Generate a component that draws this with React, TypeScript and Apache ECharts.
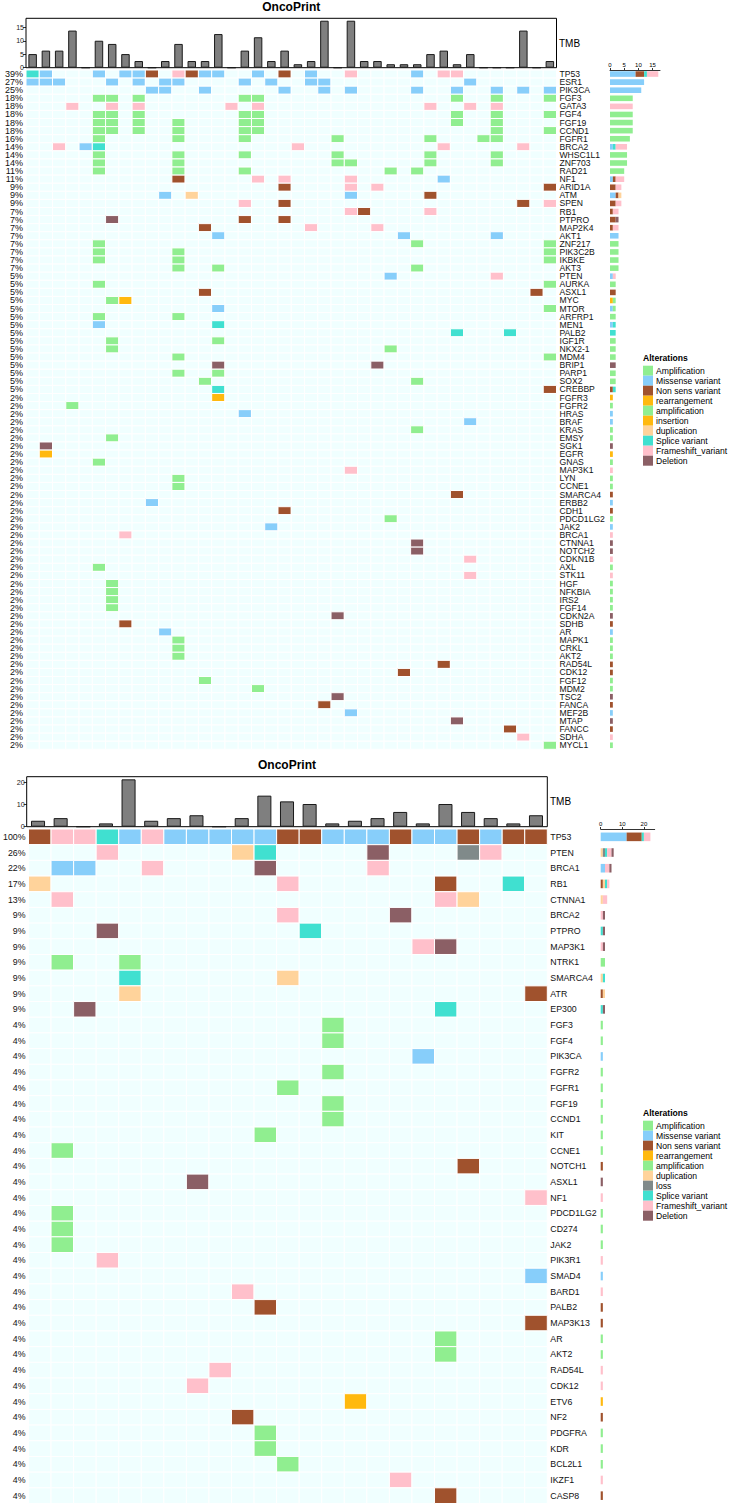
import { useEffect, useRef } from "react";
import * as echarts from "echarts";

const FONT = "'Liberation Sans', Arial, Helvetica, sans-serif";

// Alteration codes, their legend names and fill colours
const ALTERATION_LABELS: Record<string, string> = {
  A: "Amplification",
  M: "Missense variant",
  N: "Non sens variant",
  R: "rearrangement",
  a: "amplification",
  I: "insertion",
  U: "duplication",
  L: "loss",
  S: "Splice variant",
  F: "Frameshift_variant",
  D: "Deletion",
};
const ALTERATION_COLORS: Record<string, string> = {
  A: "#90EE90",
  M: "#87CEFA",
  N: "#A0522D",
  R: "#FFB90F",
  a: "#90EE90",
  I: "#FFB90F",
  U: "#FFD39B",
  L: "#808A8A",
  S: "#40E0D0",
  F: "#FFC0CB",
  D: "#8B5F65",
};
const EMPTY_CELL = "#F0FFFF";
const STACK_ORDER = ["A", "M", "N", "R", "a", "I", "U", "L", "S", "F", "D"];

// ---------- Cohort 1 ----------
const cohort1Genes = [
  "TP53", "ESR1", "PIK3CA", "FGF3", "GATA3", "FGF4", "FGF19", "CCND1", "FGFR1", "BRCA2",
  "WHSC1L1", "ZNF703", "RAD21", "NF1", "ARID1A", "ATM", "SPEN", "RB1", "PTPRO", "MAP2K4",
  "AKT1", "ZNF217", "PIK3C2B", "IKBKE", "AKT3", "PTEN", "AURKA", "ASXL1", "MYC", "MTOR",
  "ARFRP1", "MEN1", "PALB2", "IGF1R", "NKX2-1", "MDM4", "BRIP1", "PARP1", "SOX2", "CREBBP",
  "FGFR3", "FGFR2", "HRAS", "BRAF", "KRAS", "EMSY", "SGK1", "EGFR", "GNAS", "MAP3K1",
  "LYN", "CCNE1", "SMARCA4", "ERBB2", "CDH1", "PDCD1LG2", "JAK2", "BRCA1", "CTNNA1", "NOTCH2",
  "CDKN1B", "AXL", "STK11", "HGF", "NFKBIA", "IRS2", "FGF14", "CDKN2A", "SDHB", "AR",
  "MAPK1", "CRKL", "AKT2", "RAD54L", "CDK12", "FGF12", "MDM2", "TSC2", "FANCA", "MEF2B",
  "MTAP", "FANCC", "SDHA", "MYCL1",
];
const cohort1Pct = [
  "39%", "27%", "25%", "18%", "18%", "18%", "18%", "18%", "16%", "14%",
  "14%", "14%", "11%", "11%", "9%", "9%", "9%", "7%", "7%", "7%",
  "7%", "7%", "7%", "7%", "7%", "5%", "5%", "5%", "5%", "5%",
  "5%", "5%", "5%", "5%", "5%", "5%", "5%", "5%", "5%", "5%",
  "2%", "2%", "2%", "2%", "2%", "2%", "2%", "2%", "2%", "2%",
  "2%", "2%", "2%", "2%", "2%", "2%", "2%", "2%", "2%", "2%",
  "2%", "2%", "2%", "2%", "2%", "2%", "2%", "2%", "2%", "2%",
  "2%", "2%", "2%", "2%", "2%", "2%", "2%", "2%", "2%", "2%",
  "2%", "2%", "2%", "2%",
];
// per gene: "<sample index><alteration code>" entries
const cohort1Calls = [
  "0S 1M 5M 7M 8M 9N 11F 12N 13M 14M 17M 19N 21M 24F 29M 31F 32F",
  "0M 1M 2M 6M 8M 10M 11M 16M 18M 21M 22M 33M",
  "9M 10M 13M 19M 22M 24M 29M 32M 35M 37M 39M",
  "5A 6A 8A 16A 17A 32A 35A 39A",
  "3F 6F 8F 15F 17F 30F 33F 35F",
  "5A 6A 8A 16A 17A 32A 35A 39A",
  "5A 6A 8A 11A 16A 17A 32A 35A",
  "5A 6A 8A 11A 16A 17A 35A 39A",
  "5A 11A 16A 23A 30A 34A 35A",
  "2F 4M 5S 20F 31F 37F",
  "5A 11A 16A 23A 30A 35A",
  "5A 11A 23A 24A 30A 35A",
  "5A 11A 16A 27A 29A",
  "11N 17F 19F 24F 31M",
  "19N 24F 26F 39N",
  "10M 12U 24M 30N",
  "16F 19N 37N 39F",
  "24F 25N 30F",
  "6D 16N 19N",
  "13N 21F 26F",
  "14M 28M 35M",
  "5A 29A 39A",
  "5A 11A 39A",
  "5A 11A 39A",
  "11A 14A 29A",
  "27M 35F",
  "5A 39A",
  "13N 38N",
  "6a 7R",
  "14M 39a",
  "5A 11A",
  "5M 14S",
  "32S 36S",
  "6A 14A",
  "6A 27A",
  "11A 39A",
  "14D 26D",
  "11A 14A",
  "13A 29A",
  "14S 39N",
  "14R",
  "3A",
  "16M",
  "33M",
  "29A",
  "6A",
  "1D",
  "1I",
  "5A",
  "24F",
  "11A",
  "11A",
  "32N",
  "9M",
  "19N",
  "27A",
  "18M",
  "7F",
  "29D",
  "29D",
  "33F",
  "5A",
  "33F",
  "6A",
  "6A",
  "6A",
  "6A",
  "23D",
  "7N",
  "10M",
  "11A",
  "11A",
  "11A",
  "31N",
  "28N",
  "13A",
  "17A",
  "23D",
  "22N",
  "24M",
  "32D",
  "36N",
  "37F",
  "39A",
];
const cohort1Tmb = [
  5.1, 6.4, 6.4, 13.9, 0, 10.1, 8.9, 5.1, 2.5, 0,
  2.5, 8.9, 2.5, 2.5, 12.6, 0, 6.4, 11.4, 2.5, 6.4,
  1.3, 2.5, 17.6, 0, 17.6, 2.5, 2.5, 1.3, 1.3, 1.3,
  5.1, 6.4, 1.3, 5.1, 0, 0, 0, 13.9, 0, 2.5,
];
const cohort1TmbTicks = [0, 5, 10, 15];
const cohort1CountTicks = [0, 5, 10, 15];
const cohort1Legend = ["A", "M", "N", "R", "a", "I", "U", "S", "F", "D"];

// ---------- Cohort 2 ----------
const cohort2Genes = [
  "TP53", "PTEN", "BRCA1", "RB1", "CTNNA1", "BRCA2", "PTPRO", "MAP3K1", "NTRK1", "SMARCA4",
  "ATR", "EP300", "FGF3", "FGF4", "PIK3CA", "FGFR2", "FGFR1", "FGF19", "CCND1", "KIT",
  "CCNE1", "NOTCH1", "ASXL1", "NF1", "PDCD1LG2", "CD274", "JAK2", "PIK3R1", "SMAD4", "BARD1",
  "PALB2", "MAP3K13", "AR", "AKT2", "RAD54L", "CDK12", "ETV6", "NF2", "PDGFRA", "KDR",
  "BCL2L1", "IKZF1", "CASP8",
];
const cohort2Pct = [
  "100%", "26%", "22%", "17%", "13%", "9%", "9%", "9%", "9%", "9%",
  "9%", "9%", "4%", "4%", "4%", "4%", "4%", "4%", "4%", "4%",
  "4%", "4%", "4%", "4%", "4%", "4%", "4%", "4%", "4%", "4%",
  "4%", "4%", "4%", "4%", "4%", "4%", "4%", "4%", "4%", "4%",
  "4%", "4%", "4%",
];
const cohort2Calls = [
  "0N 1F 2F 3S 4M 5F 6M 7M 8M 9M 10M 11N 12N 13M 14M 15M 16N 17M 18M 19N 20M 21N 22N",
  "3F 9U 10S 15D 19L 20F",
  "1M 2M 5F 10D 15F",
  "0U 11F 18N 21S",
  "1F 18F 19U",
  "11F 16D",
  "3D 12S",
  "17F 18D",
  "1A 4A",
  "4S 11U",
  "4U 22N",
  "2D 18S",
  "13A",
  "13A",
  "17M",
  "13A",
  "11A",
  "13A",
  "13A",
  "10A",
  "1A",
  "19N",
  "7D",
  "22F",
  "1A",
  "1A",
  "1A",
  "3F",
  "22M",
  "9F",
  "10N",
  "22N",
  "18A",
  "18A",
  "8F",
  "7F",
  "14R",
  "9N",
  "10A",
  "10A",
  "11A",
  "16F",
  "18N",
];
const cohort2Tmb = [
  2.7, 3.9, 0, 1.5, 21.5, 2.7, 3.9, 5.2, 0, 3.9,
  14.1, 11.5, 10.3, 1.5, 2.7, 3.9, 6.7, 1.5, 10.3, 6.7,
  3.9, 1.5, 5.2,
];
const cohort2TmbTicks = [0, 10, 20];
const cohort2CountTicks = [0, 10, 20];
const cohort2Legend = ["A", "M", "N", "R", "a", "U", "L", "S", "F", "D"];

// ---------- page geometry (px) ----------
const PANELS = [
  {
    genes: cohort1Genes, pct: cohort1Pct, calls: cohort1Calls, tmb: cohort1Tmb,
    tmbTicks: cohort1TmbTicks, countTicks: cohort1CountTicks, legend: cohort1Legend,
    layout: {
      titleY: 7, left: 26, width: 530.5, tmbTop: 18.3, tmbHeight: 49.4, tmbMax: 18.5,
      hmTop: 70, hmHeight: 679.3, sideLeft: 610, sideWidth: 50, sideMax: 17.6, sideBar: 5.6,
      nameFont: 8.6, pctFont: 9, tmbFont: 7, tmbLabelX: 559, tmbLabelY: 43,
      legendX: 643, legendY: 358, barWidth: "64%",
    },
  },
  {
    genes: cohort2Genes, pct: cohort2Pct, calls: cohort2Calls, tmb: cohort2Tmb,
    tmbTicks: cohort2TmbTicks, countTicks: cohort2CountTicks, legend: cohort2Legend,
    layout: {
      titleY: 765, left: 26.7, width: 520.6, tmbTop: 776.7, tmbHeight: 50, tmbMax: 22.7,
      hmTop: 829, hmHeight: 674.5, sideLeft: 600.7, sideWidth: 54, sideMax: 25, sideBar: 8.6,
      nameFont: 8.8, pctFont: 8.8, tmbFont: 7.2, tmbLabelX: 550, tmbLabelY: 801.7,
      legendX: 643, legendY: 1113, barWidth: "62%",
    },
  },
];

function parseCalls(calls: string[]): Map<string, string> {
  const m = new Map<string, string>();
  calls.forEach((s, row) => {
    s.trim().split(/\s+/).filter(Boolean).forEach((tok) => {
      const col = parseInt(tok, 10);
      const code = tok.replace(/^\d+/, "");
      m.set(row + ":" + col, code);
    });
  });
  return m;
}

const CELL_COLORS = [EMPTY_CELL, ...STACK_ORDER.map((c) => ALTERATION_COLORS[c])];

function buildOption() {
  const grid: any[] = [];
  const xAxis: any[] = [];
  const yAxis: any[] = [];
  const series: any[] = [];
  const graphic: any[] = [];

  PANELS.forEach((p, k) => {
    const L = p.layout;
    const calls = parseCalls(p.calls);
    const samples = p.tmb.map((_, i) => "S" + (i + 1));
    const g0 = grid.length;
    const x0 = xAxis.length;
    const y0 = yAxis.length;

    grid.push({
      left: L.left, top: L.tmbTop, width: L.width, height: L.tmbHeight,
      show: true, borderColor: "#000", borderWidth: 1, backgroundColor: "transparent",
    });
    grid.push({ left: L.left, top: L.hmTop, width: L.width, height: L.hmHeight });
    grid.push({ left: L.sideLeft, top: L.hmTop, width: L.sideWidth, height: L.hmHeight });

    xAxis.push({ gridIndex: g0, type: "category", data: samples, show: false });
    xAxis.push({ gridIndex: g0 + 1, type: "category", data: samples, show: false });
    xAxis.push({
      gridIndex: g0 + 2, type: "value", position: "top", min: 0, max: L.sideMax,
      axisLine: { show: true, lineStyle: { color: "#000", width: 0.8 } },
      axisTick: { show: true, length: 2, customValues: p.countTicks, lineStyle: { color: "#000", width: 0.8 } },
      axisLabel: { customValues: p.countTicks, fontSize: 6, margin: 2, color: "#000", fontFamily: FONT },
      splitLine: { show: false },
    });

    yAxis.push({
      gridIndex: g0, type: "value", min: 0, max: L.tmbMax,
      axisLine: { show: false },
      axisTick: { show: true, length: 3, customValues: p.tmbTicks, lineStyle: { color: "#000", width: 0.8 } },
      axisLabel: { customValues: p.tmbTicks, fontSize: L.tmbFont, margin: 2, color: "#222", fontFamily: FONT },
      splitLine: { show: false },
    });
    yAxis.push({
      gridIndex: g0 + 1, type: "category", data: p.genes, inverse: true,
      axisLine: { show: false }, axisTick: { show: false },
      axisLabel: {
        interval: 0, fontSize: L.pctFont, margin: 3, color: "#111", fontFamily: FONT,
        formatter: (_v: string, i: number) => p.pct[i],
      },
    });
    yAxis.push({
      gridIndex: g0 + 1, type: "category", data: p.genes, inverse: true, position: "right",
      axisLine: { show: false }, axisTick: { show: false },
      axisLabel: { interval: 0, fontSize: L.nameFont, margin: 3, color: "#111", fontFamily: FONT },
    });
    yAxis.push({ gridIndex: g0 + 2, type: "category", data: p.genes, inverse: true, show: false });

    // TMB bars
    series.push({
      type: "bar", xAxisIndex: x0, yAxisIndex: y0, data: p.tmb, barWidth: L.barWidth,
      itemStyle: { color: "#7F7F7F", borderColor: "#1A1A1A", borderWidth: 1 },
      silent: true,
    });

    // alteration matrix
    const cells: number[][] = [];
    p.genes.forEach((_, r) => {
      samples.forEach((__, c) => {
        const code = calls.get(r + ":" + c);
        cells.push([c, r, code ? STACK_ORDER.indexOf(code) + 1 : 0]);
      });
    });
    series.push({
      type: "custom", xAxisIndex: x0 + 1, yAxisIndex: y0 + 1, data: cells, silent: true,
      renderItem: (_params: any, api: any) => {
        const pt = api.coord([api.value(0), api.value(1)]);
        const sz = api.size([1, 1]);
        return {
          type: "rect",
          shape: { x: pt[0] - sz[0] / 2, y: pt[1] - sz[1] / 2, width: sz[0], height: sz[1] },
          style: { fill: CELL_COLORS[api.value(2)], stroke: "#FFFFFF", lineWidth: 1 },
        };
      },
    });

    // per-gene counts, stacked by alteration type
    STACK_ORDER.forEach((code) => {
      const counts = p.genes.map((_, r) => {
        let n = 0;
        samples.forEach((__, c) => { if (calls.get(r + ":" + c) === code) n += 1; });
        return n;
      });
      if (counts.some((n) => n > 0)) {
        series.push({
          type: "bar", xAxisIndex: x0 + 2, yAxisIndex: y0 + 3, stack: "count" + k,
          barWidth: L.sideBar, data: counts, silent: true,
          itemStyle: { color: ALTERATION_COLORS[code] },
        });
      }
    });

    // title, TMB label and legend
    graphic.push({
      type: "text", x: L.left + L.width / 2, y: L.titleY,
      style: { text: "OncoPrint", font: `bold 12px ${FONT}`, fill: "#000", align: "center", verticalAlign: "middle" },
    });
    graphic.push({
      type: "text", x: L.tmbLabelX, y: L.tmbLabelY,
      style: { text: "TMB", font: `10px ${FONT}`, fill: "#000", align: "left", verticalAlign: "middle" },
    });
    graphic.push({
      type: "text", x: L.legendX, y: L.legendY,
      style: { text: "Alterations", font: `bold 8.6px ${FONT}`, fill: "#000", align: "left", verticalAlign: "middle" },
    });
    p.legend.forEach((code, i) => {
      const top = L.legendY + 7.7 + i * 10;
      graphic.push({
        type: "rect", shape: { x: L.legendX, y: top, width: 10, height: 10 },
        style: { fill: ALTERATION_COLORS[code] },
      });
      graphic.push({
        type: "text", x: L.legendX + 13, y: top + 5,
        style: { text: ALTERATION_LABELS[code], font: `8.6px ${FONT}`, fill: "#000", align: "left", verticalAlign: "middle" },
      });
    });
  });

  return {
    animation: false,
    backgroundColor: "#FFFFFF",
    textStyle: { fontFamily: FONT },
    grid, xAxis, yAxis, series, graphic,
  };
}

export default function App() {
  const ref = useRef<HTMLDivElement>(null);
  useEffect(() => {
    if (!ref.current) return;
    const chart = echarts.init(ref.current, undefined, { renderer: "svg" });
    chart.setOption(buildOption() as any);
    return () => chart.dispose();
  }, []);
  return (
    <div
      ref={ref}
      style={{ position: "absolute", left: 0, top: 0, width: 741, height: 1505, background: "#fff" }}
    />
  );
}
